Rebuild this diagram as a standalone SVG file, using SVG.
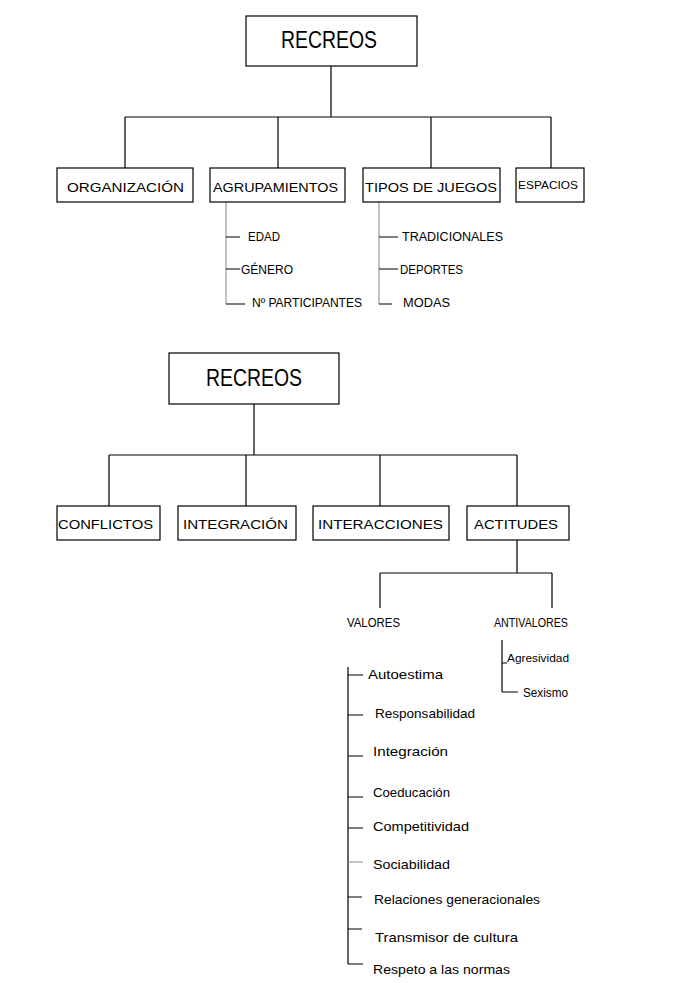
<svg xmlns="http://www.w3.org/2000/svg" width="696" height="983" viewBox="0 0 696 983">
<style>
.bg{fill:#ffffff}
.box{fill:#ffffff;stroke:#000000;stroke-width:1.2}
.ln{fill:none;stroke:#000000;stroke-width:1.2}
.gr{fill:none;stroke:#9a9a9a;stroke-width:1.2}
text{font-family:"Liberation Sans","DejaVu Sans",sans-serif;fill:#000000}
.big{font-size:24px}
.bx{font-size:13px}
.sm{font-size:12px}
.lc{font-size:13px}
</style>
<rect class="bg" x="0" y="0" width="696" height="983"/>
<g id="connectors">
  <path class="ln" d="M331 66V117M125 117H551M125 117V168M278 117V168M431 117V168M551 117V168"/>
  <path class="gr" d="M226 202V304M379 202V304"/>
  <path class="ln" d="M226 237H240M226 269H240M226 304H245M379 237H398M379 269H398M379 304H392"/>
  <path class="ln" d="M254 404V455M109 455H517M109 455V506M246 455V506M380 455V506M517 455V506"/>
  <path class="ln" d="M517 540V573M380 573H552M380 573V608M552 573V608"/>
  <path class="ln" d="M348 667V964M348 675H363M348 715H363M348 756H363M348 797H363M348 828H363M348 897H362M348 929H362M348 964H363"/>
  <path class="gr" d="M348 862H363"/>
  <path class="ln" d="M502 640V692M502 663H507M502 692H518"/>
</g>
<g id="recreos1">
  <rect class="box" x="246" y="16" width="171" height="50"/>
  <text class="big" x="281" y="48" textLength="96" lengthAdjust="spacingAndGlyphs">RECREOS</text>
</g>
<g id="organizacion">
  <rect class="box" x="57" y="168" width="136" height="34"/>
  <text class="bx" x="67" y="192" textLength="117" lengthAdjust="spacingAndGlyphs">ORGANIZACIÓN</text>
</g>
<g id="agrupamientos">
  <rect class="box" x="210" y="168" width="135" height="34"/>
  <text class="bx" x="213" y="192" textLength="125" lengthAdjust="spacingAndGlyphs">AGRUPAMIENTOS</text>
</g>
<g id="tipos">
  <rect class="box" x="363" y="168" width="137" height="34"/>
  <text class="bx" x="365" y="192" textLength="132" lengthAdjust="spacingAndGlyphs">TIPOS DE JUEGOS</text>
</g>
<g id="espacios">
  <rect class="box" x="516" y="168" width="68" height="34"/>
  <text x="518" y="189" font-size="10.5" textLength="60" lengthAdjust="spacingAndGlyphs">ESPACIOS</text>
</g>
<g id="edad"><text class="sm" x="248" y="241" textLength="32" lengthAdjust="spacingAndGlyphs">EDAD</text></g>
<g id="genero"><text class="sm" x="241" y="274" textLength="52" lengthAdjust="spacingAndGlyphs">GÉNERO</text></g>
<g id="participantes"><text class="sm" x="252" y="307" textLength="110" lengthAdjust="spacingAndGlyphs">Nº PARTICIPANTES</text></g>
<g id="tradicionales"><text class="sm" x="402" y="241" textLength="101" lengthAdjust="spacingAndGlyphs">TRADICIONALES</text></g>
<g id="deportes"><text class="sm" x="400" y="274" textLength="63" lengthAdjust="spacingAndGlyphs">DEPORTES</text></g>
<g id="modas"><text class="sm" x="403" y="307" textLength="47" lengthAdjust="spacingAndGlyphs">MODAS</text></g>
<g id="recreos2">
  <rect class="box" x="169" y="353" width="170" height="51"/>
  <text class="big" x="206" y="386" textLength="96" lengthAdjust="spacingAndGlyphs">RECREOS</text>
</g>
<g id="conflictos">
  <rect class="box" x="57" y="506" width="103" height="34"/>
  <text class="bx" x="58" y="529" textLength="95" lengthAdjust="spacingAndGlyphs">CONFLICTOS</text>
</g>
<g id="integracion">
  <rect class="box" x="178" y="506" width="118" height="34"/>
  <text class="bx" x="183" y="529" textLength="105" lengthAdjust="spacingAndGlyphs">INTEGRACIÓN</text>
</g>
<g id="interacciones">
  <rect class="box" x="313" y="506" width="136" height="34"/>
  <text class="bx" x="318" y="529" textLength="125" lengthAdjust="spacingAndGlyphs">INTERACCIONES</text>
</g>
<g id="actitudes">
  <rect class="box" x="467" y="506" width="102" height="34"/>
  <text class="bx" x="474" y="529" textLength="84" lengthAdjust="spacingAndGlyphs">ACTITUDES</text>
</g>
<g id="valores"><text class="sm" x="347" y="627" textLength="53" lengthAdjust="spacingAndGlyphs">VALORES</text></g>
<g id="antivalores"><text class="sm" x="494" y="627" textLength="74" lengthAdjust="spacingAndGlyphs">ANTIVALORES</text></g>
<g id="agresividad"><text x="507" y="662" font-size="10" textLength="62" lengthAdjust="spacingAndGlyphs">Agresividad</text></g>
<g id="sexismo"><text class="lc" x="523" y="697" textLength="45" lengthAdjust="spacingAndGlyphs">Sexismo</text></g>
<g id="autoestima"><text class="lc" x="368" y="679" textLength="75" lengthAdjust="spacingAndGlyphs">Autoestima</text></g>
<g id="responsabilidad"><text class="lc" x="375" y="718" textLength="100" lengthAdjust="spacingAndGlyphs">Responsabilidad</text></g>
<g id="integracion2"><text class="lc" x="373" y="756" textLength="75" lengthAdjust="spacingAndGlyphs">Integración</text></g>
<g id="coeducacion"><text class="lc" x="373" y="797" textLength="77" lengthAdjust="spacingAndGlyphs">Coeducación</text></g>
<g id="competitividad"><text class="lc" x="373" y="831" textLength="96" lengthAdjust="spacingAndGlyphs">Competitividad</text></g>
<g id="sociabilidad"><text class="lc" x="373" y="869" textLength="77" lengthAdjust="spacingAndGlyphs">Sociabilidad</text></g>
<g id="relaciones"><text class="lc" x="374" y="904" textLength="166" lengthAdjust="spacingAndGlyphs">Relaciones generacionales</text></g>
<g id="transmisor"><text class="lc" x="375" y="942" textLength="143" lengthAdjust="spacingAndGlyphs">Transmisor de cultura</text></g>
<g id="respeto"><text class="lc" x="373" y="974" textLength="137" lengthAdjust="spacingAndGlyphs">Respeto a las normas</text></g>
</svg>
